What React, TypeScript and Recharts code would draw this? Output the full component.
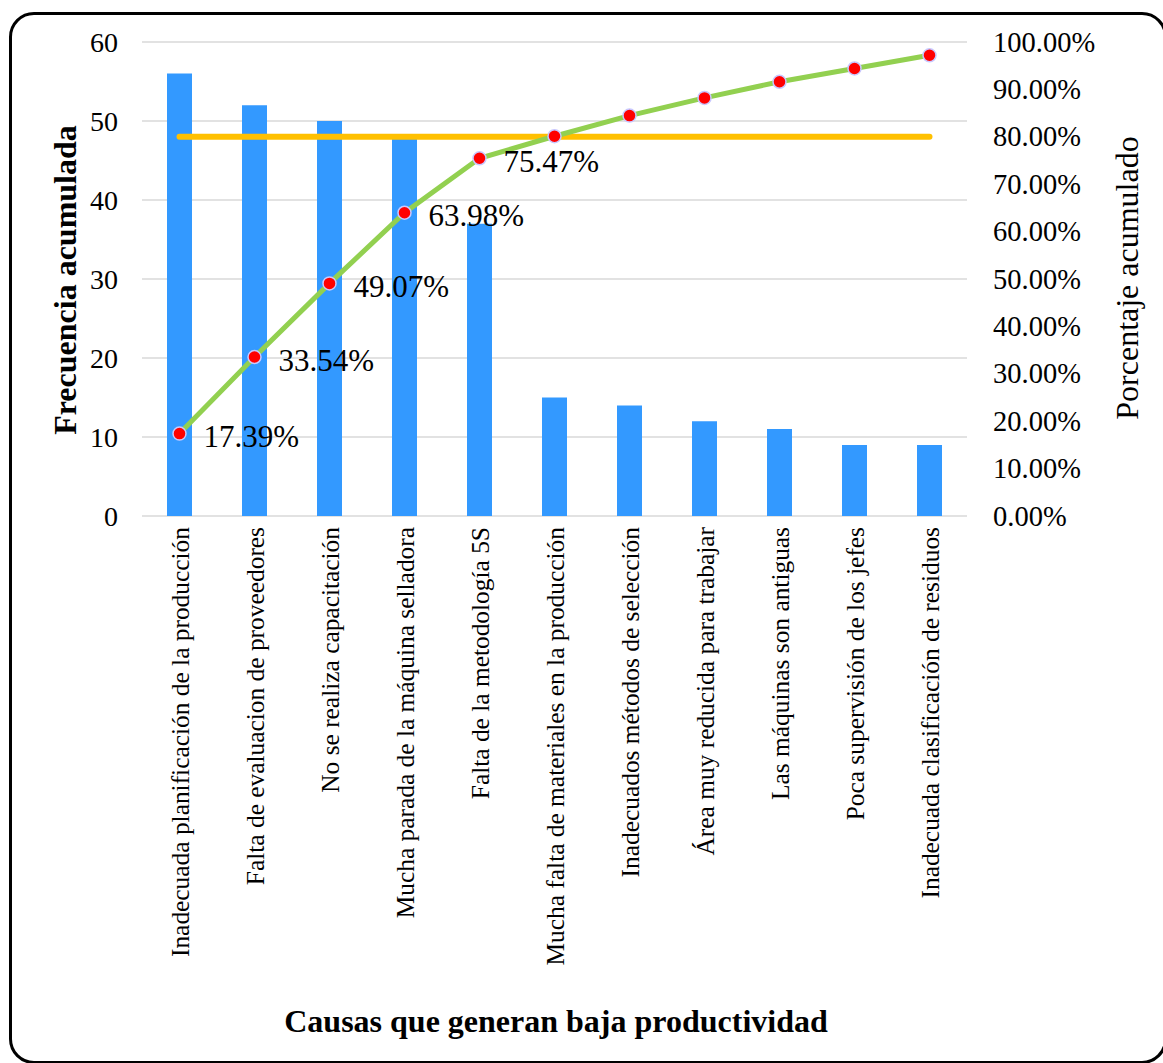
import { ComposedChart, Bar, Line, XAxis, YAxis, CartesianGrid, LabelList } from 'recharts';

const causas = [
  'Inadecuada planificación de la producción',
  'Falta de evaluacion de proveedores',
  'No se realiza capacitación',
  'Mucha parada de la máquina selladora',
  'Falta de la metodología 5S',
  'Mucha falta de materiales en la producción',
  'Inadecuados métodos de selección',
  'Área muy reducida para trabajar',
  'Las máquinas son antiguas',
  'Poca supervisión de los jefes',
  'Inadecuada clasificación de residuos',
];
const frecuencia = [56, 52, 50, 48, 37, 15, 14, 12, 11, 9, 9];
const porcentaje = [17.39, 33.54, 49.07, 63.98, 75.47, 80.12, 84.47, 88.2, 91.61, 94.41, 97.2];
const limite = [80, 80, 80, 80, 80, 80, 80, 80, 80, 80, 80];
const leftTicks = [0, 10, 20, 30, 40, 50, 60];
const rightTicks = [0, 10, 20, 30, 40, 50, 60, 70, 80, 90, 100];

const data = causas.map((name, i) => ({
  name,
  frecuencia: frecuencia[i],
  porcentaje: porcentaje[i],
  limite: limite[i],
}));

const FONT = '"Liberation Serif", "Times New Roman", serif';

const LeftTick = ({ y, payload }: any) => (
  <text x={118} y={y} textAnchor="end" dominantBaseline="central" fontFamily={FONT} fontSize={28} fill="#000">
    {payload.value}
  </text>
);

const RightTick = ({ y, payload }: any) => (
  <text x={993} y={y} textAnchor="start" dominantBaseline="central" fontFamily={FONT} fontSize={28.5} fill="#000">
    {Number(payload.value).toFixed(2)}%
  </text>
);

const CatTick = ({ x, payload }: any) => (
  <text
    transform={`translate(${x},527) rotate(-90)`}
    textAnchor="end"
    dominantBaseline="central"
    fontFamily={FONT}
    fontSize={25.4}
    fill="#000"
  >
    {payload.value}
  </text>
);

const PctLabel = (props: any) => {
  const { x, y, value, index } = props;
  if (index > 4) return null;
  return (
    <text x={x + 24} y={y + 3} textAnchor="start" dominantBaseline="central" fontFamily={FONT} fontSize={31} fill="#000">
      {Number(value).toFixed(2)}%
    </text>
  );
};

const Dot = (props: any) => {
  const { cx, cy } = props;
  return <circle cx={cx} cy={cy} r={6.5} fill="#FF0000" stroke="#C8C8FF" strokeWidth={1.5} />;
};

export default function App() {
  return (
    <div
      style={{
        position: 'absolute',
        left: 0,
        top: 0,
        width: 1163,
        height: 1063,
        overflow: 'hidden',
        background: '#fff',
      }}
    >
      <div
        style={{
          position: 'absolute',
          left: 9,
          top: 12,
          width: 1158,
          height: 1052,
          border: '3px solid #000',
          borderRadius: 25,
          boxSizing: 'border-box',
        }}
      />
      <div style={{ position: 'absolute', left: 0, top: 0 }}>
        <ComposedChart width={1163} height={1063} data={data} margin={{ top: 42, right: 0, bottom: 0, left: 0 }}>
          <CartesianGrid yAxisId="left" vertical={false} stroke="#D9D9D9" strokeWidth={1.5} />
          <XAxis
            dataKey="name"
            height={547}
            axisLine={false}
            tickLine={false}
            interval={0}
            tick={<CatTick />}
            label={{
              content: () => (
                <text x={556} y={1021} textAnchor="middle" dominantBaseline="central" fontFamily={FONT} fontSize={32} fontWeight="bold" fill="#000">
                  Causas que generan baja productividad
                </text>
              ),
            }}
          />
          <YAxis
            yAxisId="left"
            orientation="left"
            width={142}
            domain={[0, 60]}
            ticks={leftTicks}
            axisLine={false}
            tickLine={false}
            tick={<LeftTick />}
            label={{
              content: () => (
                <text
                  transform="translate(65,280) rotate(-90)"
                  textAnchor="middle"
                  dominantBaseline="central"
                  fontFamily={FONT}
                  fontSize={32}
                  fontWeight="bold"
                  fill="#000"
                >
                  Frecuencia acumulada
                </text>
              ),
            }}
          />
          <YAxis
            yAxisId="right"
            orientation="right"
            width={196}
            domain={[0, 100]}
            ticks={rightTicks}
            axisLine={false}
            tickLine={false}
            tick={<RightTick />}
            label={{
              content: () => (
                <text
                  transform="translate(1127,278) rotate(-90)"
                  textAnchor="middle"
                  dominantBaseline="central"
                  fontFamily={FONT}
                  fontSize={32}
                  fill="#000"
                >
                  Porcentaje acumulado
                </text>
              ),
            }}
          />
          <Bar yAxisId="left" dataKey="frecuencia" fill="#3399FF" barSize={25} isAnimationActive={false} />
          <Line
            yAxisId="right"
            dataKey="limite"
            stroke="#FFC000"
            strokeWidth={6}
            strokeLinecap="round"
            dot={false}
            activeDot={false}
            isAnimationActive={false}
          />
          <Line
            yAxisId="right"
            dataKey="porcentaje"
            type="linear"
            stroke="#92D050"
            strokeWidth={5}
            strokeLinecap="round"
            dot={<Dot />}
            activeDot={false}
            isAnimationActive={false}
          >
            <LabelList dataKey="porcentaje" content={<PctLabel />} />
          </Line>
        </ComposedChart>
      </div>
    </div>
  );
}
